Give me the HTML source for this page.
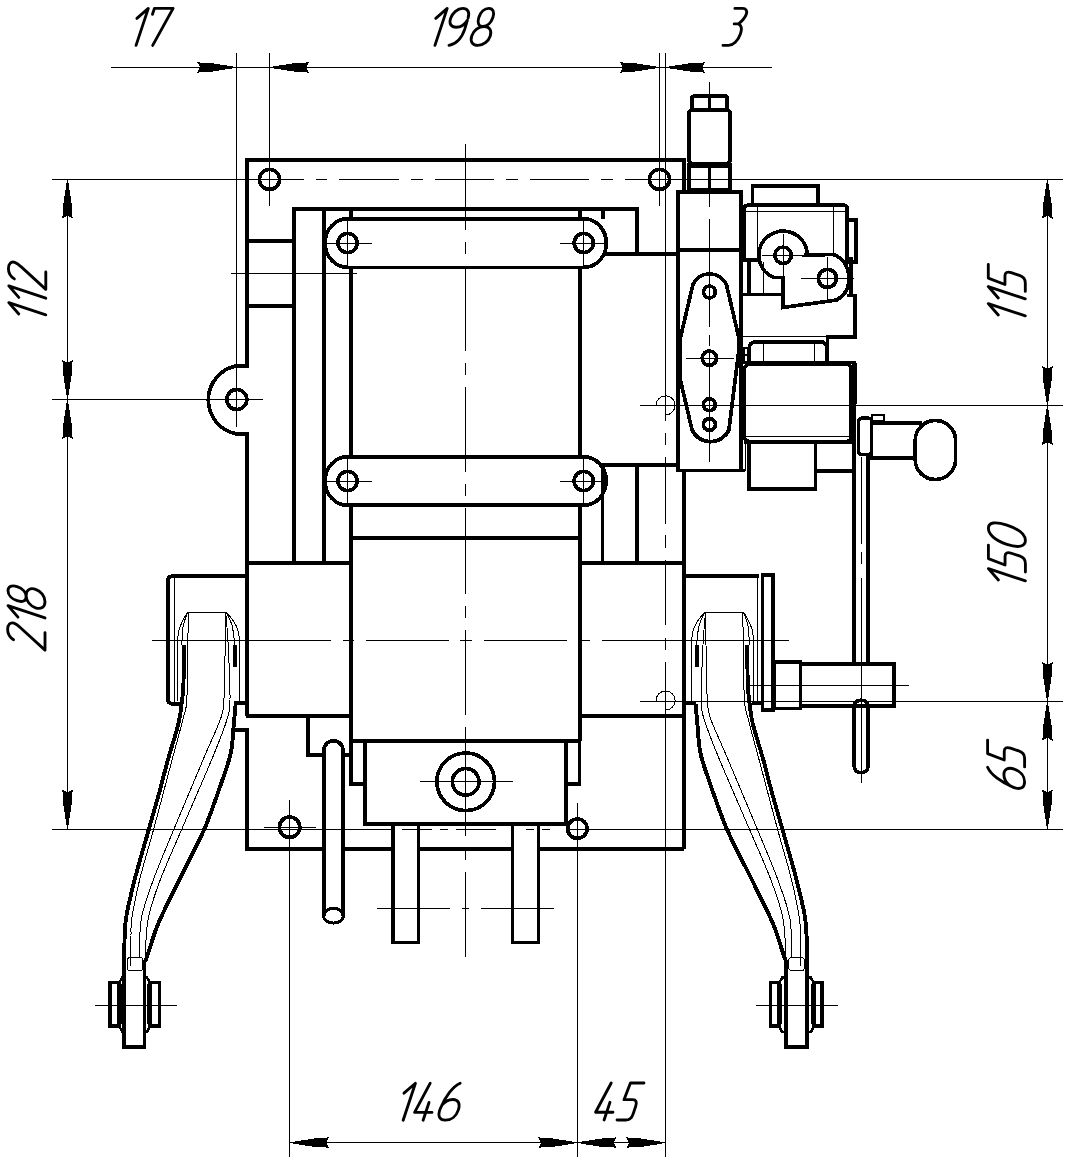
<!DOCTYPE html>
<html><head><meta charset="utf-8"><title>drawing</title>
<style>
html,body{margin:0;padding:0;background:#fff;}
body{width:1067px;height:1162px;overflow:hidden;font-family:"Liberation Sans",sans-serif;}
svg{display:block;}
svg *{fill:none;stroke:#000;stroke-linecap:butt;stroke-linejoin:miter;shape-rendering:crispEdges;}
svg .tx path{shape-rendering:geometricPrecision;}
svg .tx path{stroke-width:2.85px;vector-effect:non-scaling-stroke;stroke-linecap:round;stroke-linejoin:round;}
</style></head><body>
<svg width="1067" height="1162" viewBox="0 0 1067 1162">
<rect x="0" y="0" width="1067" height="1162" style="fill:#fff;stroke:none"/>
<line x1="110.5" y1="67.4" x2="771.5" y2="67.4" stroke-width="1"/>
<line x1="236.5" y1="52.5" x2="236.5" y2="426.6" stroke-width="1"/>
<line x1="269.5" y1="52.5" x2="269.5" y2="205.6" stroke-width="1"/>
<line x1="659.6" y1="52.5" x2="659.6" y2="205.6" stroke-width="1"/>
<line x1="665.5" y1="52.5" x2="665.5" y2="420.5" stroke-width="1"/>
<line x1="665.5" y1="420.5" x2="665.5" y2="662.4" stroke-width="1" stroke-dasharray="0 12.4 11.7 12.4 67.4 11 12.1 12.6 65.1 13.2 11.6 12.4 100" stroke-dashoffset="0"/>
<line x1="665.5" y1="662.4" x2="665.5" y2="1157" stroke-width="1"/>
<polygon points="233.3,66.5 209.3,62.8 200.3,62.7 197,61.6 200,67.4 197,73.2 200.3,72.1 209.3,72 233.3,68.3" style="fill:#000;stroke:none"/>
<polygon points="272.8,68.3 296.8,72 305.8,72.1 309.1,73.2 306.1,67.4 309.1,61.6 305.8,62.7 296.8,62.8 272.8,66.5" style="fill:#000;stroke:none"/>
<polygon points="656.2,66.5 632.2,62.8 623.2,62.7 619.9,61.6 622.9,67.4 619.9,73.2 623.2,72.1 632.2,72 656.2,68.3" style="fill:#000;stroke:none"/>
<polygon points="669,68.3 693,72 702,72.1 705.3,73.2 702.3,67.4 705.3,61.6 702,62.7 693,62.8 669,66.5" style="fill:#000;stroke:none"/>
<line x1="67.5" y1="179.3" x2="67.5" y2="829.2" stroke-width="1"/>
<line x1="51.8" y1="179.3" x2="302.8" y2="179.3" stroke-width="1"/>
<line x1="51.8" y1="399.5" x2="263" y2="399.5" stroke-width="1"/>
<line x1="51.6" y1="829.4" x2="392" y2="829.4" stroke-width="1"/>
<polygon points="66.6,182.6 62.9,206.6 62.8,215.6 61.7,218.9 67.5,215.9 73.3,218.9 72.2,215.6 72.1,206.6 68.4,182.6" style="fill:#000;stroke:none"/>
<polygon points="68.4,396 72.1,372 72.2,363 73.3,359.7 67.5,362.7 61.7,359.7 62.8,363 62.9,372 66.6,396" style="fill:#000;stroke:none"/>
<polygon points="66.6,402.9 62.9,426.9 62.8,435.9 61.7,439.2 67.5,436.2 73.3,439.2 72.2,435.9 72.1,426.9 68.4,402.9" style="fill:#000;stroke:none"/>
<polygon points="68.4,825.7 72.1,801.7 72.2,792.7 73.3,789.4 67.5,792.4 61.7,789.4 62.8,792.7 62.9,801.7 66.6,825.7" style="fill:#000;stroke:none"/>
<line x1="1047.4" y1="179.3" x2="1047.4" y2="829.2" stroke-width="1"/>
<line x1="650" y1="179.3" x2="1062.5" y2="179.3" stroke-width="1"/>
<line x1="639.5" y1="405.4" x2="1062.5" y2="405.4" stroke-width="1"/>
<line x1="639.5" y1="701.3" x2="1063.3" y2="701.3" stroke-width="1"/>
<line x1="567" y1="829.2" x2="1063.3" y2="829.2" stroke-width="1"/>
<polygon points="1046.5,182.6 1042.8,206.6 1042.7,215.6 1041.6,218.9 1047.4,215.9 1053.2,218.9 1052.1,215.6 1052,206.6 1048.3,182.6" style="fill:#000;stroke:none"/>
<polygon points="1048.3,402 1052,378 1052.1,369 1053.2,365.7 1047.4,368.7 1041.6,365.7 1042.7,369 1042.8,378 1046.5,402" style="fill:#000;stroke:none"/>
<polygon points="1046.5,408.8 1042.8,432.8 1042.7,441.8 1041.6,445.1 1047.4,442.1 1053.2,445.1 1052.1,441.8 1052,432.8 1048.3,408.8" style="fill:#000;stroke:none"/>
<polygon points="1048.3,698 1052,674 1052.1,665 1053.2,661.7 1047.4,664.7 1041.6,661.7 1042.7,665 1042.8,674 1046.5,698" style="fill:#000;stroke:none"/>
<polygon points="1046.5,704.6 1042.8,728.6 1042.7,737.6 1041.6,740.9 1047.4,737.9 1053.2,740.9 1052.1,737.6 1052,728.6 1048.3,704.6" style="fill:#000;stroke:none"/>
<polygon points="1048.3,825.7 1052,801.7 1052.1,792.7 1053.2,789.4 1047.4,792.4 1041.6,789.4 1042.7,792.7 1042.8,801.7 1046.5,825.7" style="fill:#000;stroke:none"/>
<line x1="289.7" y1="1142.7" x2="665.5" y2="1142.7" stroke-width="1"/>
<line x1="289.6" y1="800" x2="289.6" y2="1157" stroke-width="1"/>
<line x1="577.4" y1="803" x2="577.4" y2="1157" stroke-width="1"/>
<polygon points="292.9,1143.6 316.9,1147.3 325.9,1147.4 329.2,1148.5 326.2,1142.7 329.2,1136.9 325.9,1138 316.9,1138.1 292.9,1141.8" style="fill:#000;stroke:none"/>
<polygon points="574.3,1141.8 550.3,1138.1 541.3,1138 538,1136.9 541,1142.7 538,1148.5 541.3,1147.4 550.3,1147.3 574.3,1143.6" style="fill:#000;stroke:none"/>
<polygon points="580.5,1143.6 604.5,1147.3 613.5,1147.4 616.8,1148.5 613.8,1142.7 616.8,1136.9 613.5,1138 604.5,1138.1 580.5,1141.8" style="fill:#000;stroke:none"/>
<polygon points="662.4,1141.8 638.4,1138.1 629.4,1138 626.1,1136.9 629.1,1142.7 626.1,1148.5 629.4,1147.4 638.4,1147.3 662.4,1143.6" style="fill:#000;stroke:none"/>
<g transform="translate(127.9,45.4) matrix(3.7,0,-1.228,3.7,0,0)" class="tx"><path transform="translate(0,-10)" d="M0,2.7 L2.2,0 L2.2,10"/><path transform="translate(3.8,-10)" d="M0.05,1.6 L0.05,0 L5.1,0 L2.9,10"/></g>
<g transform="translate(426.8,45.4) matrix(3.7,0,-1.228,3.7,0,0)" class="tx"><path transform="translate(0,-10)" d="M0,2.7 L2.2,0 L2.2,10"/><path transform="translate(4,-10)" d="M4.7,2.6 C4.7,1.0 3.7,0 2.4,0 C1.0,0 0,1.2 0,2.7 C0,4.2 1.0,5.1 2.3,5.1 C3.5,5.1 4.4,4.3 4.7,3.2 L4.8,5.6 C4.8,8.0 3.8,9.6 2.0,10"/><path transform="translate(11.3,-10)" d="M2.15,0 C1.0,0 0.25,1.0 0.25,2.45 C0.25,3.9 1.0,4.9 2.15,4.9 C3.3,4.9 4.05,3.9 4.05,2.45 C4.05,1.0 3.3,0 2.15,0 Z M2.5,4.9 C1.0,4.9 0,6.0 0,7.45 C0,8.9 1.0,10 2.5,10 C4.0,10 5.0,8.9 5.0,7.45 C5.0,6.0 4.0,4.9 2.5,4.9 Z"/></g>
<g transform="translate(722.6,45.4) matrix(3.7,0,-1.228,3.7,0,0)" class="tx"><path transform="translate(0,-10)" d="M0,0 L2.1,0 C3.0,0 3.6,0.6 3.6,1.5 C3.6,2.6 2.9,3.6 2.4,4.2 L1.2,4.2 M2.4,4.2 C3.3,4.6 3.8,5.5 3.8,6.8 C3.8,8.8 2.8,10 1.6,10 L0.1,10"/></g>
<g transform="translate(395,1120.2) matrix(3.7,0,-1.228,3.7,0,0)" class="tx"><path transform="translate(0,-10)" d="M0,2.7 L2.2,0 L2.2,10"/><path transform="translate(4.6,-10)" d="M1.6,0 L0,7.9 L4.7,7.9 M3.0,5.2 L3.0,10"/><path transform="translate(11.2,-10)" d="M3.1,0 C1.5,0.8 0.2,3.5 0,7.0 C-0.1,9 0.9,10 2.4,10 C4.0,10 5.0,8.9 5.0,7.2 C5.0,5.5 4.0,4.4 2.6,4.4 C1.5,4.4 0.6,5.0 0.1,6.0"/></g>
<g transform="translate(593,1120) matrix(3.7,0,-1.228,3.7,0,0)" class="tx"><path transform="translate(0,-10)" d="M1.6,0 L0,7.9 L4.7,7.9 M3.0,5.2 L3.0,10"/><path transform="translate(6.5,-10)" d="M3.95,0 L0.3,0 L0.05,4.5 L2.4,4.5 C3.3,4.5 3.8,5.1 3.8,6.2 L3.8,8.4 C3.8,9.4 3.2,10 2.3,10 L0,10"/></g>
<g transform="translate(45.8,323) rotate(-90) matrix(3.7,0,-1.228,3.7,0,0)" class="tx"><path transform="translate(0,-10)" d="M0,2.7 L2.2,0 L2.2,10"/><path transform="translate(4.5,-10)" d="M0,2.7 L2.2,0 L2.2,10"/><path transform="translate(9,-10)" d="M0.1,1.5 C0.4,0.4 1.2,-0.1 2.3,-0.1 C3.7,-0.1 4.6,0.6 4.6,1.6 C4.6,2.3 4.4,2.7 4.0,3.3 L0.1,10 L4.8,10"/></g>
<g transform="translate(45,650.5) rotate(-90) matrix(3.7,0,-1.228,3.7,0,0)" class="tx"><path transform="translate(0,-10)" d="M0.1,1.5 C0.4,0.4 1.2,-0.1 2.3,-0.1 C3.7,-0.1 4.6,0.6 4.6,1.6 C4.6,2.3 4.4,2.7 4.0,3.3 L0.1,10 L4.8,10"/><path transform="translate(6.6,-10)" d="M0,2.7 L2.2,0 L2.2,10"/><path transform="translate(10.7,-10)" d="M2.15,0 C1.0,0 0.25,1.0 0.25,2.45 C0.25,3.9 1.0,4.9 2.15,4.9 C3.3,4.9 4.05,3.9 4.05,2.45 C4.05,1.0 3.3,0 2.15,0 Z M2.5,4.9 C1.0,4.9 0,6.0 0,7.45 C0,8.9 1.0,10 2.5,10 C4.0,10 5.0,8.9 5.0,7.45 C5.0,6.0 4.0,4.9 2.5,4.9 Z"/></g>
<g transform="translate(1025.3,324) rotate(-90) matrix(3.7,0,-1.228,3.7,0,0)" class="tx"><path transform="translate(0,-10)" d="M0,2.7 L2.2,0 L2.2,10"/><path transform="translate(4.6,-10)" d="M0,2.7 L2.2,0 L2.2,10"/><path transform="translate(8.8,-10)" d="M3.95,0 L0.3,0 L0.05,4.5 L2.4,4.5 C3.3,4.5 3.8,5.1 3.8,6.2 L3.8,8.4 C3.8,9.4 3.2,10 2.3,10 L0,10"/></g>
<g transform="translate(1025.4,589) rotate(-90) matrix(3.7,0,-1.228,3.7,0,0)" class="tx"><path transform="translate(0,-10)" d="M0,2.7 L2.2,0 L2.2,10"/><path transform="translate(4.6,-10)" d="M3.95,0 L0.3,0 L0.05,4.5 L2.4,4.5 C3.3,4.5 3.8,5.1 3.8,6.2 L3.8,8.4 C3.8,9.4 3.2,10 2.3,10 L0,10"/><path transform="translate(10.6,-10)" d="M2.5,0 C0.9,0 -0.2,1.8 -0.2,5 C-0.2,8.2 0.9,10 2.5,10 C4.1,10 5.0,8.2 5.0,5 C5.0,1.8 4.1,0 2.5,0 Z"/></g>
<g transform="translate(1024.6,791) rotate(-90) matrix(3.7,0,-1.228,3.7,0,0)" class="tx"><path transform="translate(0,-10)" d="M3.1,0 C1.5,0.8 0.2,3.5 0,7.0 C-0.1,9 0.9,10 2.4,10 C4.0,10 5.0,8.9 5.0,7.2 C5.0,5.5 4.0,4.4 2.6,4.4 C1.5,4.4 0.6,5.0 0.1,6.0"/><path transform="translate(6.5,-10)" d="M3.95,0 L0.3,0 L0.05,4.5 L2.4,4.5 C3.3,4.5 3.8,5.1 3.8,6.2 L3.8,8.4 C3.8,9.4 3.2,10 2.3,10 L0,10"/></g>
<line x1="465.6" y1="144.3" x2="465.6" y2="957.5" stroke-width="1" stroke-dasharray="85.3 12 12 12" stroke-dashoffset="0"/>
<line x1="244.2" y1="179.3" x2="650" y2="179.3" stroke-width="1" stroke-dasharray="59.6 11.8 11.8 12" stroke-dashoffset="0"/>
<line x1="152.4" y1="640.3" x2="789.4" y2="640.3" stroke-width="1" stroke-dasharray="178.6 11.6 11.5 12.2 82.8 11.2 11.5 12.2 82.8 11.5 11.5 12.2 187.4" stroke-dashoffset="0"/>
<line x1="392" y1="829.4" x2="567" y2="829.4" stroke-width="1" stroke-dasharray="0 10 30 8 8 8 30" stroke-dashoffset="0"/>
<line x1="377" y1="908.3" x2="553.8" y2="908.3" stroke-width="1" stroke-dasharray="72.7 12.6 6.3 12.6 72.6 20" stroke-dashoffset="0"/>
<line x1="709.4" y1="81.5" x2="709.4" y2="96" stroke-width="1"/>
<line x1="709.4" y1="192" x2="709.4" y2="462" stroke-width="1" stroke-dasharray="14.9 12.3 107.8 8 10.5 5.2 111.3" stroke-dashoffset="0"/>
<path d="M684,192 L684,159.7 L247,159.7 L247,365.8 L236.8,365.8 A34.65,34.65 0 0,0 236.8,434 L247,434 L247,715.5" stroke-width="3.7"/>
<circle cx="269.5" cy="179.4" r="10.1" stroke-width="3.7"/>
<circle cx="659.5" cy="179.4" r="10.1" stroke-width="3.7"/>
<circle cx="236.8" cy="399.5" r="10" stroke-width="3.7"/>
<line x1="269.5" y1="160" x2="269.5" y2="205.6" stroke-width="1"/>
<line x1="247" y1="241" x2="294" y2="241" stroke-width="3.7"/>
<line x1="247" y1="306" x2="294" y2="306" stroke-width="3.7"/>
<line x1="231" y1="273.3" x2="356.7" y2="273.3" stroke-width="1"/>
<path d="M294,563 L294,209 L637,209 L637,254.2" stroke-width="3.7"/>
<line x1="324" y1="209" x2="324" y2="563" stroke-width="3.7"/>
<line x1="351" y1="209" x2="351" y2="219" stroke-width="3.7"/>
<line x1="351" y1="267" x2="351" y2="457" stroke-width="3.7"/>
<line x1="351" y1="505" x2="351" y2="741" stroke-width="3.7"/>
<line x1="579.8" y1="209" x2="579.8" y2="219" stroke-width="3.7"/>
<line x1="579.8" y1="267" x2="579.8" y2="457" stroke-width="3.7"/>
<line x1="579.8" y1="505" x2="579.8" y2="741" stroke-width="3.7"/>
<line x1="602.7" y1="209" x2="602.7" y2="219" stroke-width="3.7"/>
<line x1="605" y1="254.2" x2="678" y2="254.2" stroke-width="3.7"/>
<path d="M347.6,218.7 L583.8,218.7 C596.3,218.7 606.3,229.7 606.3,243 C606.3,256.4 596.3,267.4 583.8,267.4 L347.6,267.4 C335.1,267.4 325.1,256.4 325.1,243 C325.1,229.7 335.1,218.7 347.6,218.7 Z" stroke-width="3.7"/>
<circle cx="347.6" cy="243" r="9.6" stroke-width="3.7"/>
<line x1="323.6" y1="243" x2="371.6" y2="243" stroke-width="1"/>
<line x1="347.6" y1="218.7" x2="347.6" y2="267.4" stroke-width="1"/>
<circle cx="583.8" cy="243" r="9.6" stroke-width="3.7"/>
<line x1="559.8" y1="243" x2="607.8" y2="243" stroke-width="1"/>
<line x1="583.8" y1="218.7" x2="583.8" y2="267.4" stroke-width="1"/>
<path d="M347.6,456.7 L583.7,456.7 C596.2,456.7 606.2,467.7 606.2,481 C606.2,494.3 596.2,505.3 583.7,505.3 L347.6,505.3 C335.1,505.3 325.1,494.3 325.1,481 C325.1,467.7 335.1,456.7 347.6,456.7 Z" stroke-width="3.7"/>
<circle cx="347.6" cy="481" r="9.6" stroke-width="3.7"/>
<line x1="323.6" y1="481" x2="371.6" y2="481" stroke-width="1"/>
<line x1="347.6" y1="456.7" x2="347.6" y2="505.3" stroke-width="1"/>
<circle cx="583.7" cy="481" r="9.6" stroke-width="3.7"/>
<line x1="559.7" y1="481" x2="607.7" y2="481" stroke-width="1"/>
<line x1="583.7" y1="456.7" x2="583.7" y2="505.3" stroke-width="1"/>
<line x1="351" y1="537.7" x2="579.8" y2="537.7" stroke-width="3.7"/>
<line x1="247" y1="563" x2="351" y2="563" stroke-width="3.7"/>
<line x1="579.8" y1="563" x2="684" y2="563" stroke-width="3.7"/>
<line x1="245.5" y1="715.7" x2="351" y2="715.7" stroke-width="3.7"/>
<line x1="579.8" y1="715.7" x2="684" y2="715.7" stroke-width="3.7"/>
<line x1="684" y1="470.5" x2="684" y2="849.3" stroke-width="3.7"/>
<path d="M602.6,563 L602.6,465 L678,465" stroke-width="3.7"/>
<line x1="637" y1="465" x2="637" y2="563" stroke-width="3.7"/>
<line x1="351" y1="740.9" x2="579.8" y2="740.9" stroke-width="3.7"/>
<path d="M351,741 L351,783.9 L365,783.9" stroke-width="3.7"/>
<path d="M579.6,741 L579.6,783.9 L566.3,783.9" stroke-width="3.7"/>
<rect x="365.1" y="740.9" width="201.2" height="82.9" stroke-width="3.7"/>
<circle cx="465.7" cy="781.8" r="28.8" stroke-width="3.7"/>
<circle cx="465.7" cy="781.8" r="13.3" stroke-width="3.7"/>
<line x1="420" y1="781.8" x2="513" y2="781.8" stroke-width="1"/>
<line x1="465.6" y1="740" x2="465.6" y2="830" stroke-width="1"/>
<rect x="392.7" y="823.8" width="25.9" height="118.6" stroke-width="3.7"/>
<rect x="512.4" y="823.8" width="26" height="118.6" stroke-width="3.7"/>
<path d="M308,715.7 L308,754.8 L323.9,754.8" stroke-width="3.7"/>
<line x1="343" y1="754.8" x2="351" y2="754.8" stroke-width="3.7"/>
<path d="M323.9,915.7 L323.9,750.3 A9.55,9.55 0 0,1 343,750.3 L343,915.7" stroke-width="3.7"/>
<ellipse cx="333.5" cy="915.7" rx="10" ry="7.3" stroke-width="3"/>
<path d="M234.8,730.2 L247,730.2 L247,849.3 L323.9,849.3" stroke-width="3.7"/>
<line x1="343" y1="849.3" x2="392.7" y2="849.3" stroke-width="3.7"/>
<line x1="418.6" y1="849.3" x2="512.4" y2="849.3" stroke-width="3.7"/>
<line x1="538.4" y1="849.3" x2="684" y2="849.3" stroke-width="3.7"/>
<circle cx="289.6" cy="827.2" r="10.2" stroke-width="3.7"/>
<circle cx="577.4" cy="828.7" r="9.7" stroke-width="3.7"/>
<line x1="263.5" y1="827.2" x2="315.8" y2="827.2" stroke-width="1"/>
<path d="M691.8,110 L691.8,99 Q691.8,96 694.8,96 L724.3,96 Q727.3,96 727.3,99 L727.3,110" stroke-width="3.7"/>
<line x1="709.4" y1="96" x2="709.4" y2="110" stroke-width="3.7"/>
<rect x="689" y="110" width="41" height="53.4" rx="3" stroke-width="3.7"/>
<rect x="689" y="163.4" width="41" height="26.1" rx="1.5" stroke-width="3.7"/>
<line x1="689" y1="166.5" x2="730" y2="166.5" stroke-width="3.7"/>
<line x1="709.4" y1="166" x2="709.4" y2="189" stroke-width="3.7"/>
<line x1="689" y1="190" x2="730" y2="190" stroke-width="3.7"/>
<rect x="678" y="192" width="63.2" height="278.5" stroke-width="3.7"/>
<line x1="678" y1="250.3" x2="741.2" y2="250.3" stroke-width="3.7"/>
<path d="M692.9,284.5 A18.5,18.5 0 0,1 726.4,284.5 L738.7,337 L738.7,351.6 L728.9,430.2 A20.5,20.5 0 0,1 692.1,430.2 L680.6,381 L680.6,337 Z" stroke-width="3.7"/>
<circle cx="709.4" cy="292" r="5.9" stroke-width="3.7"/>
<circle cx="709.4" cy="358.2" r="7.2" stroke-width="3.7"/>
<circle cx="709.4" cy="404.8" r="6" stroke-width="3.7"/>
<circle cx="709.4" cy="424.5" r="6" stroke-width="3.7"/>
<line x1="686.4" y1="358.2" x2="733.8" y2="358.2" stroke-width="1"/>
<rect x="743.6" y="347.5" width="4.6" height="14.5" stroke-width="2"/>
<line x1="743.6" y1="355" x2="748.2" y2="355" stroke-width="2"/>
<rect x="752.5" y="186" width="65.7" height="19.2" stroke-width="3.7"/>
<path d="M744.2,260 L744.2,209 Q744.2,205.2 748,205.2 L843.4,205.2 Q847.2,205.2 847.2,209 L847.2,257" stroke-width="3.7"/>
<line x1="744.2" y1="211.2" x2="847.2" y2="211.2" stroke-width="1"/>
<line x1="757.6" y1="205.2" x2="757.6" y2="258.7" stroke-width="1"/>
<line x1="833.7" y1="205.2" x2="833.7" y2="254.2" stroke-width="1"/>
<rect x="847.2" y="220" width="8.8" height="41.8" stroke-width="3.7"/>
<path d="M805.4,255 L807.06,251.93 A24.2,24.2 0 1,0 773.18,277.37 L782.7,277.5 L782.7,307.5 L837,300 C843,296 848.6,290 848.6,282 L848.6,276 C848.6,265 841,257 833.1,254.5 Z" stroke-width="3.7"/>
<circle cx="783.1" cy="255.3" r="8.2" stroke-width="3.7"/>
<circle cx="827.4" cy="278.4" r="9" stroke-width="3.7"/>
<line x1="761.5" y1="255.3" x2="805.3" y2="255.3" stroke-width="1"/>
<line x1="783.1" y1="233.6" x2="783.1" y2="305" stroke-width="1"/>
<line x1="801.2" y1="278.4" x2="853.9" y2="278.4" stroke-width="1"/>
<line x1="827.4" y1="256.9" x2="827.4" y2="300.7" stroke-width="1"/>
<line x1="851" y1="257" x2="851" y2="294" stroke-width="3.5"/>
<line x1="742.7" y1="260" x2="758" y2="260" stroke-width="3.7"/>
<line x1="749.2" y1="262" x2="749.2" y2="294.2" stroke-width="3.7"/>
<line x1="763.4" y1="262" x2="763.4" y2="294.2" stroke-width="1"/>
<line x1="742.7" y1="294.5" x2="783.4" y2="294.5" stroke-width="3.7"/>
<path d="M847,295.5 L855,295.5 L855,337.3 L827.5,337.3 L827.5,362" stroke-width="3.7"/>
<line x1="742.3" y1="336.6" x2="827.2" y2="336.6" stroke-width="1"/>
<path d="M749,362 L749,349 Q749,341.7 757,341.7 L819.2,341.7 Q827.2,341.7 827.2,349.7 L827.2,362" stroke-width="3.7"/>
<line x1="763.5" y1="341.7" x2="763.5" y2="362" stroke-width="1"/>
<line x1="814.7" y1="341.7" x2="814.7" y2="362" stroke-width="1"/>
<line x1="743" y1="362.5" x2="855.7" y2="362.5" stroke-width="3.7"/>
<line x1="854.5" y1="362.5" x2="854.5" y2="403.5" stroke-width="5"/>
<rect x="744.5" y="364.4" width="106.8" height="77.1" rx="5" stroke-width="3.7"/>
<line x1="745" y1="436.2" x2="851" y2="436.2" stroke-width="1"/>
<line x1="744" y1="442" x2="851.5" y2="442" stroke-width="3.7"/>
<rect x="748.9" y="442" width="66.6" height="46.7" stroke-width="3.7"/>
<line x1="815.5" y1="471.2" x2="852" y2="471.2" stroke-width="3.7"/>
<line x1="741.6" y1="442" x2="741.6" y2="471.2" stroke-width="3.7"/>
<line x1="745.2" y1="442" x2="745.2" y2="471.2" stroke-width="1"/>
<line x1="678" y1="470.5" x2="745" y2="470.5" stroke-width="3.7"/>
<line x1="854" y1="403.5" x2="854" y2="663.5" stroke-width="3.7"/>
<line x1="868" y1="454" x2="868" y2="663.5" stroke-width="3.7"/>
<line x1="861.6" y1="457" x2="861.6" y2="665" stroke-width="1" stroke-dasharray="87 8.4 11.7 13.5 100" stroke-dashoffset="0"/>
<rect x="854.2" y="700.3" width="13.8" height="72.2" rx="6" stroke-width="3.7"/>
<line x1="861.6" y1="665" x2="861.6" y2="782.6" stroke-width="1"/>
<rect x="858.6" y="418.2" width="13" height="36.2" rx="3" stroke-width="3.7"/>
<rect x="871.5" y="415.4" width="12.5" height="5.3" stroke-width="2"/>
<path d="M871.5,423.2 L922,423.2 M871.5,457.7 L915.6,457.7" stroke-width="3.7"/>
<line x1="871.6" y1="420" x2="871.6" y2="459.5" stroke-width="3.7"/>
<rect x="915.2" y="420.5" width="40.4" height="59" rx="20" stroke-width="3.7"/>
<rect x="773.8" y="661.8" width="26.8" height="46.6" stroke-width="3.7"/>
<rect x="800.6" y="664" width="93.4" height="42" stroke-width="3.7"/>
<line x1="750" y1="685.3" x2="909" y2="685.3" stroke-width="1"/>
<line x1="684" y1="575.8" x2="759" y2="575.8" stroke-width="3.7"/>
<rect x="762.6" y="575.1" width="10.3" height="134.9" stroke-width="3.7"/>
<line x1="757.7" y1="576" x2="757.7" y2="701.7" stroke-width="1"/>
<line x1="751.6" y1="703.1" x2="762.6" y2="703.1" stroke-width="3.7"/>
<line x1="684" y1="703.1" x2="696" y2="703.1" stroke-width="3.7"/>
<path d="M246.5,576.1 L172.8,576.1 Q167.8,576.1 167.8,581.1 L167.8,698.7 Q167.8,703.9 173,703.9 L181,703.9" stroke-width="3.7"/>
<line x1="174.1" y1="576.1" x2="174.1" y2="703.9" stroke-width="1"/>
<line x1="233.6" y1="703.1" x2="246.5" y2="703.1" stroke-width="3.7"/>
<path d="M656.1,405.3 A9.5,9.5 0 1,1 665.6,414.8" stroke-width="1"/>
<path d="M656.1,700.5 A9.5,9.5 0 1,1 665.6,710" stroke-width="1"/>
<path d="M695.6,704.2 C695.9,707.7 696.7,717 697.5,725 C698.3,733 698.4,743.4 700.3,752.5 C702.2,761.6 704.2,766.9 708.7,779.7 C713.2,792.5 719.8,812.7 727,829.4 C734.2,846.1 744.4,864.4 752,880 C759.6,895.6 767.5,910.8 772.7,923 C777.9,935.2 780.8,946.6 783,953.1 C785.2,959.6 785.7,960.5 786.2,962" stroke-width="3.9"/>
<path d="M747.2,645.4 C747.3,652 747.4,675.4 747.8,685 C748.2,694.6 748.7,696.6 749.5,703 C750.3,709.4 750.4,713.8 752.7,723.4 C755.1,733 760.5,749.8 763.6,760.9 C766.7,772 768.1,778.6 771.2,790 C774.3,801.4 778.2,814.4 782.4,829.4 C786.6,844.4 792.8,865.1 796.6,880 C800.4,894.9 803.5,907 805.2,918.7 C806.9,930.4 806.6,942.8 806.9,950 C807.2,957.2 806.8,960 806.8,962" stroke-width="3.9"/>
<path d="M705.5,612.3 C705.1,617.8 703.7,630.4 703,645 C702.3,659.6 701,687.7 701.2,700 C701.4,712.3 701.2,709.3 704,718.7 C706.8,728.1 710.5,737.8 718.1,756.2 C725.7,774.7 740.7,808.8 749.5,829.4 C758.3,850 765.4,865.1 771,880 C776.6,894.9 780.5,905.8 783,918.7 C785.5,931.6 785.5,951 786,957.5" stroke-width="1"/>
<path d="M705.2,612.3 C705.3,617.8 705.6,630.4 706,645 C706.4,659.6 706.5,687.7 707.3,700 C708.1,712.3 707.4,709.3 710.6,718.7 C713.8,728.1 718.8,737.8 726.6,756.2 C734.4,774.7 748.9,808.8 757.4,829.4 C765.9,850 772.5,865.1 777.9,880 C783.3,894.9 787.6,905.8 789.9,918.7 C792.2,931.6 791.3,951 791.6,957.5" stroke-width="1"/>
<path d="M742.6,612.3 C742.8,617.8 743.2,630.4 743.5,645 C743.8,659.6 743.6,687.7 744.4,700 C745.2,712.3 745.6,708.6 748.1,718.7 C750.6,728.9 754.5,742.5 759.4,760.9 C764.3,779.3 772.2,809.5 777.6,829.4 C783,849.2 788,865.1 791.6,880 C795.2,894.9 798,909.4 799.4,918.7 C800.8,928 800,928 800.2,935.9 C800.4,943.8 800.6,961 800.7,966" stroke-width="1"/>
<path d="M691.7,701 C691.7,691 691,654 691.7,641.2 C692.4,628.4 693.8,628.8 696,624 C698.2,619.2 703.3,614.2 704.8,612.3" stroke-width="1"/>
<path d="M753.6,701 C753.6,691 754.2,654 753.6,641.2 C753,628.4 751.7,628.8 750,624 C748.3,619.2 744.7,614.2 743.6,612.3" stroke-width="1"/>
<path d="M704.8,612.3 C703.8,614.6 700.4,620.5 699,626 C697.6,631.5 696.9,641.8 696.5,645" stroke-width="1"/>
<path d="M743.6,612.3 C744.3,614.6 747,620.5 748,626 C749,631.5 749.2,641.8 749.5,645" stroke-width="1"/>
<line x1="704.8" y1="612.3" x2="743.6" y2="612.3" stroke-width="1"/>
<line x1="696.6" y1="645.3" x2="696.6" y2="667.3" stroke-width="3.9"/>
<path d="M786.2,960 L786.2,1047 L806.8,1047 L806.8,960" stroke-width="3.7"/>
<rect x="770.5" y="982.6" width="8.7" height="43.6" stroke-width="3.7"/>
<rect x="813.8" y="982.6" width="8" height="43.6" stroke-width="3.7"/>
<path d="M779.2,982.6 L782.2,977.5 L786.2,977.5 M779.2,1026.2 L782.2,1032 L786.2,1032" stroke-width="2.6"/>
<path d="M813.8,982.6 L810.8,977.5 L806.8,977.5 M813.8,1026.2 L810.8,1032 L806.8,1032" stroke-width="2.6"/>
<line x1="781.4" y1="984" x2="781.4" y2="1024" stroke-width="1"/>
<line x1="811.6" y1="984" x2="811.6" y2="1024" stroke-width="1"/>
<line x1="756.2" y1="1005.3" x2="838.2" y2="1005.3" stroke-width="1"/>
<rect x="788.7" y="957.5" width="15.7" height="13.1" rx="3" stroke-width="1"/>
<path d="M235.6,704.2 C235.3,707.7 234.5,717 233.7,725 C232.9,733 232.8,743.4 230.9,752.5 C229,761.6 227,766.9 222.5,779.7 C218,792.5 211.4,812.7 204.2,829.4 C197,846.1 186.8,864.4 179.2,880 C171.6,895.6 163.7,910.8 158.5,923 C153.3,935.2 150.5,946.6 148.2,953.1 C146,959.6 145.5,960.5 145,962" stroke-width="3.9"/>
<path d="M184,645.4 C183.9,652 183.8,675.4 183.4,685 C183,694.6 182.5,696.6 181.7,703 C180.9,709.4 180.8,713.8 178.5,723.4 C176.2,733 170.7,749.8 167.6,760.9 C164.5,772 163.1,778.6 160,790 C156.9,801.4 153,814.4 148.8,829.4 C144.6,844.4 138.4,865.1 134.6,880 C130.8,894.9 127.7,907 126,918.7 C124.3,930.4 124.6,942.8 124.3,950 C124,957.2 124.4,960 124.4,962" stroke-width="3.9"/>
<path d="M225.7,612.3 C226.1,617.8 227.5,630.4 228.2,645 C228.9,659.6 230.2,687.7 230,700 C229.8,712.3 230,709.3 227.2,718.7 C224.4,728.1 220.7,737.8 213.1,756.2 C205.5,774.7 190.5,808.8 181.7,829.4 C172.9,850 165.8,865.1 160.2,880 C154.6,894.9 150.7,905.8 148.2,918.7 C145.7,931.6 145.7,951 145.2,957.5" stroke-width="1"/>
<path d="M226,612.3 C225.9,617.8 225.6,630.4 225.2,645 C224.9,659.6 224.7,687.7 223.9,700 C223.1,712.3 223.8,709.3 220.6,718.7 C217.4,728.1 212.4,737.8 204.6,756.2 C196.8,774.7 182.4,808.8 173.8,829.4 C165.3,850 158.7,865.1 153.3,880 C147.9,894.9 143.6,905.8 141.3,918.7 C139,931.6 139.9,951 139.6,957.5" stroke-width="1"/>
<path d="M188.6,612.3 C188.5,617.8 188,630.4 187.7,645 C187.4,659.6 187.6,687.7 186.8,700 C186,712.3 185.6,708.6 183.1,718.7 C180.6,728.9 176.7,742.5 171.8,760.9 C166.9,779.3 159,809.5 153.6,829.4 C148.2,849.2 143.2,865.1 139.6,880 C136,894.9 133.2,909.4 131.8,918.7 C130.4,928 131.2,928 131,935.9 C130.8,943.8 130.6,961 130.5,966" stroke-width="1"/>
<path d="M239.5,701 C239.5,691 240.2,654 239.5,641.2 C238.8,628.4 237.4,628.8 235.2,624 C233,619.2 227.9,614.2 226.4,612.3" stroke-width="1"/>
<path d="M177.6,701 C177.6,691 177,654 177.6,641.2 C178.2,628.4 179.5,628.8 181.2,624 C182.9,619.2 186.5,614.2 187.6,612.3" stroke-width="1"/>
<path d="M226.4,612.3 C227.4,614.6 230.8,620.5 232.2,626 C233.6,631.5 234.3,641.8 234.7,645" stroke-width="1"/>
<path d="M187.6,612.3 C186.9,614.6 184.2,620.5 183.2,626 C182.2,631.5 182,641.8 181.7,645" stroke-width="1"/>
<line x1="226.4" y1="612.3" x2="187.6" y2="612.3" stroke-width="1"/>
<line x1="234.6" y1="645.3" x2="234.6" y2="667.3" stroke-width="3.9"/>
<path d="M123.9,960 L123.9,1047 L144.5,1047 L144.5,960" stroke-width="3.7"/>
<rect x="109.8" y="982.6" width="9.5" height="43.6" stroke-width="3.7"/>
<rect x="150" y="982.6" width="9.6" height="43.6" stroke-width="3.7"/>
<path d="M119.3,982.6 L122.3,977.5 L123.9,977.5 M119.3,1026.2 L122.3,1032 L123.9,1032" stroke-width="2.6"/>
<path d="M150,982.6 L147,977.5 L144.5,977.5 M150,1026.2 L147,1032 L144.5,1032" stroke-width="2.6"/>
<line x1="121.5" y1="984" x2="121.5" y2="1024" stroke-width="1"/>
<line x1="147.8" y1="984" x2="147.8" y2="1024" stroke-width="1"/>
<line x1="94.7" y1="1005.3" x2="176.7" y2="1005.3" stroke-width="1"/>
<rect x="127.2" y="957.5" width="15.7" height="13.1" rx="3" stroke-width="1"/>
</svg>
</body></html>
